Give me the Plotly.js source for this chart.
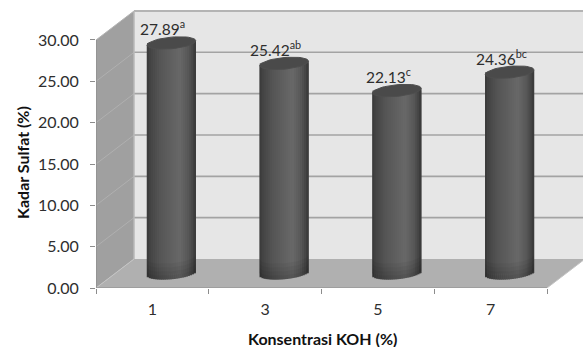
<!DOCTYPE html>
<html>
<head>
<meta charset="utf-8">
<script src="https://cdn.plot.ly/plotly-3.0.1.min.js"></script>
<style>html,body{margin:0;padding:0;background:#fff}#chart{width:583px;height:347px}</style>
</head>
<body>
<div id="chart"></div>
<script>
// Sulfate content by KOH concentration
const kohLabels = ['1', '3', '5', '7'];
const sulfateValues = [27.89, 25.42, 22.13, 24.36];
const significance = ['a', 'ab', 'c', 'bc'];
const valueTicks = [0, 5, 10, 15, 20, 25, 30];

// Pixel scale of the axes, used to build the pseudo-3D box in data units
const W = 583, H = 347, LEFT = 96, BOTTOM = 59;
const PX_PER_CAT = 112.75, PX_PER_UNIT = 8.267;
const DEPTH_X = 38 / PX_PER_CAT, DEPTH_Y = 29 / PX_PER_UNIT;
const xMin = -0.5, xMax = xMin + (W - LEFT) / PX_PER_CAT;
const yMax = (H - BOTTOM) / PX_PER_UNIT;
const xEnd = kohLabels.length - 0.5;
const yTop = valueTicks[valueTicks.length - 1];

const GRID = '#a3a3a3';
const poly = pts => 'M' + pts.map(p => p[0] + ',' + p[1]).join('L') + 'Z';
const shapeFill = (pts, fill) => ({type: 'path', path: poly(pts), xref: 'x', yref: 'y', layer: 'below',
  fillcolor: fill, line: {width: 0}});
const seg = (a, b, color, width) => ({type: 'line', xref: 'x', yref: 'y', layer: 'below',
  x0: a[0], y0: a[1], x1: b[0], y1: b[1], line: {color, width}});

// Box walls and floor
const backX = xMin + DEPTH_X;
const shapes = [
  shapeFill([[backX, DEPTH_Y], [xEnd + DEPTH_X, DEPTH_Y], [xEnd + DEPTH_X, yTop + DEPTH_Y], [backX, yTop + DEPTH_Y]], '#e6e6e6'),
  shapeFill([[xMin, 0], [backX, DEPTH_Y], [backX, yTop + DEPTH_Y], [xMin, yTop]], '#a0a0a0')
];
valueTicks.slice(1).forEach(v => {
  const w = v === yTop ? 2 : 1.6;
  shapes.push(seg([backX, v + DEPTH_Y], [xEnd + DEPTH_X, v + DEPTH_Y], v === yTop ? '#b4b4b4' : GRID, w));
  shapes.push(seg([xMin, v], [backX, v + DEPTH_Y], v === yTop ? '#b4b4b4' : '#b0b0b0', 1));
});
shapes.push(seg([backX, DEPTH_Y], [backX, yTop + DEPTH_Y], '#b8b8b8', 1.5));
shapes.push(shapeFill([[xMin, 0], [xEnd, 0], [xEnd + DEPTH_X, DEPTH_Y], [backX, DEPTH_Y]], '#b0b0b0'));
shapes.push(seg([xEnd, 0], [xEnd + DEPTH_X, DEPTH_Y], '#c4c4c4', 1));
shapes.push(seg([xMin, 0], [backX, DEPTH_Y], '#c4c4c4', 1));

// Cylinder geometry: round bars standing mid-way through the box depth
const xIndex = kohLabels.map((_, i) => i);
const centerX = xIndex.map(i => i + DEPTH_X / 2);
const baseY = DEPTH_Y / 2;
const BAR_WIDTH = 48.7 / PX_PER_CAT;
const CAP_H = 5.8 / PX_PER_UNIT, CAP_TILT = 2.2 / PX_PER_UNIT;
const STRIPS = 24;
const shadeStops = [[-1, 56], [-0.86, 68], [-0.5, 84], [0.1, 98], [0.35, 104], [0.7, 88], [0.9, 68], [1, 54]];
const shadeAt = u => {
  for (let i = 1; i < shadeStops.length; i++) {
    const [a, sa] = shadeStops[i - 1], [b, sb] = shadeStops[i];
    if (u <= b) return Math.round(sa + (sb - sa) * (u - a) / (b - a));
  }
  return 54;
};
const traces = [];

traces.push({type: 'bar', x: centerX, y: sulfateValues, base: sulfateValues.map(() => baseY),
  width: BAR_WIDTH, marker: {color: '#555555', line: {width: 0}}, hoverinfo: 'skip', showlegend: false});

for (let s = 0; s < STRIPS; s++) {
  const u = -1 + (2 * s + 1) / STRIPS;
  const arc = Math.sqrt(1 - u * u) * CAP_H, tilt = CAP_TILT * u;
  const xs = [], ys = [];
  centerX.forEach((cx, i) => {
    const sx = cx + u * BAR_WIDTH / 2;
    xs.push(sx, sx, null);
    ys.push(baseY + tilt - arc, baseY + sulfateValues[i] + tilt, null);
  });
  const g = shadeAt(u);
  traces.push({type: 'scatter', mode: 'lines', x: xs, y: ys, hoverinfo: 'skip', showlegend: false,
    line: {color: `rgb(${g},${g},${g})`, width: 2.6}});
}

// Soft darkening along the foot of each cylinder, built from nested crescents
centerX.forEach(cx => {
  [4, 8, 12, 16].forEach(rise => {
    const xs = [], ys = [];
    for (let d = 0; d <= 24; d++) {
      const u = -1 + d / 12;
      xs.push(cx + u * BAR_WIDTH / 2);
      ys.push(baseY + CAP_TILT * u - Math.sqrt(1 - u * u) * CAP_H);
    }
    for (let d = 24; d >= 0; d--) {
      const u = -1 + d / 12;
      xs.push(cx + u * BAR_WIDTH / 2);
      ys.push(baseY + CAP_TILT * u - Math.sqrt(1 - u * u) * CAP_H + rise / PX_PER_UNIT);
    }
    traces.push({type: 'scatter', mode: 'lines', x: xs, y: ys, fill: 'toself', fillcolor: 'rgba(0,0,0,0.045)',
      line: {width: 0}, hoverinfo: 'skip', showlegend: false});
  });
});

// Flat top caps
centerX.forEach((cx, i) => {
  const xs = [], ys = [];
  for (let d = 0; d <= 48; d++) {
    const a = d / 48 * 2 * Math.PI, u = Math.cos(a);
    xs.push(cx + u * BAR_WIDTH / 2);
    ys.push(baseY + sulfateValues[i] + CAP_TILT * u + CAP_H * Math.sin(a));
  }
  traces.push({type: 'scatter', mode: 'lines', x: xs, y: ys, fill: 'toself', fillcolor: '#4a4a4a',
    line: {color: '#4e4e4e', width: 1}, hoverinfo: 'skip', showlegend: false});
});

// Axis lines stop at the box corners, so they are drawn as their own traces
traces.push({type: 'scatter', mode: 'lines', x: [xMin, xMin, xEnd], y: [yTop, 0, 0], cliponaxis: false,
  line: {color: '#8c8c8c', width: 1.2}, hoverinfo: 'skip', showlegend: false});

// Value labels with significance letters
const valueLabels = sulfateValues.map((v, i) => ({
  text: v.toFixed(2) + '<sup>' + significance[i] + '</sup>',
  xref: 'x', yref: 'y', x: centerX[i] - 8.5 / PX_PER_CAT, y: v + baseY + 15 / PX_PER_UNIT,
  xanchor: 'center', yanchor: 'middle', showarrow: false,
  font: {family: 'Lato, sans-serif', size: 15.5, color: '#2e2e2e'}
}));

const layout = {
  width: W, height: H, margin: {l: LEFT, r: 0, t: 0, b: BOTTOM, pad: 0},
  paper_bgcolor: '#fff', plot_bgcolor: '#fff', showlegend: false, barmode: 'overlay',
  font: {family: 'Lato, sans-serif', color: '#2e2e2e', size: 16},
  xaxis: {range: [xMin, xMax], tickmode: 'array', tickvals: xIndex, ticktext: kohLabels, ticks: '', ticklen: 0,
    ticklabelstandoff: 10, showgrid: false, zeroline: false, showline: false, tickfont: {size: 16, color: '#2e2e2e'},
    minor: {tickmode: 'array', tickvals: [-0.5, 0.5, 1.5, 2.5, 3.5], ticks: 'outside', ticklen: 5, tickwidth: 1, tickcolor: '#8c8c8c', showgrid: false}},
  yaxis: {range: [0, yMax], tickmode: 'array', tickvals: valueTicks, ticktext: valueTicks.map(v => v.toFixed(2)),
    ticks: 'outside', ticklen: 5, tickwidth: 1, tickcolor: '#8c8c8c', showgrid: false, zeroline: false, showline: false,
    ticklabelstandoff: 8, tickfont: {size: 16, color: '#2e2e2e'}},
  shapes,
  annotations: valueLabels.concat([
    {text: '<b>Konsentrasi KOH (%)</b>', xref: 'paper', yref: 'paper', x: (322 - LEFT) / (W - LEFT), y: -50 / (H - BOTTOM),
      xanchor: 'center', yanchor: 'middle', showarrow: false, font: {size: 16, color: '#111'}},
    {text: '<b>Kadar Sulfat (%)</b>', xref: 'paper', yref: 'paper', x: (22 - LEFT) / (W - LEFT), y: (288 - 163) / (H - BOTTOM),
      xanchor: 'center', yanchor: 'middle', textangle: -90, showarrow: false, font: {size: 16, color: '#111'}}
  ])
};

Plotly.newPlot('chart', traces, layout, {displayModeBar: false, staticPlot: true});
</script>
</body>
</html>
